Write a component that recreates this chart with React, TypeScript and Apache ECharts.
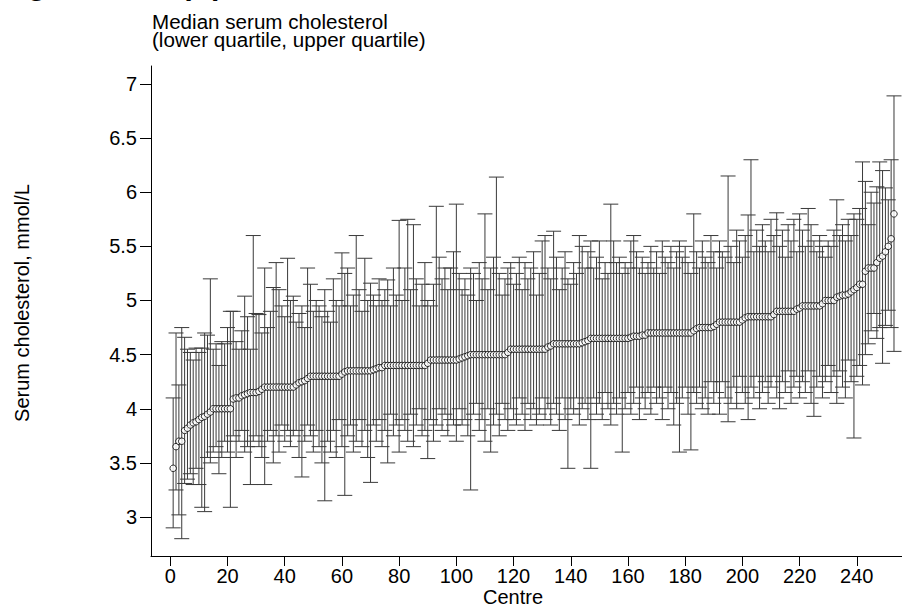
import React, { useEffect, useRef } from "react";
import * as echarts from "echarts";

// Median serum cholesterol per centre (centres sorted by median)
const medians: number[] = [
  3.45, 3.65, 3.70, 3.70, 3.80, 3.82, 3.85, 3.87, 3.88, 3.90,
  3.92, 3.93, 3.95, 3.97, 4.00, 4.00, 4.00, 4.00, 4.00, 4.00,
  4.00, 4.09, 4.10, 4.10, 4.12, 4.13, 4.14, 4.15, 4.15, 4.15,
  4.16, 4.18, 4.20, 4.20, 4.20, 4.20, 4.20, 4.20, 4.20, 4.20,
  4.20, 4.20, 4.20, 4.22, 4.24, 4.25, 4.26, 4.28, 4.30, 4.30,
  4.30, 4.30, 4.30, 4.30, 4.30, 4.30, 4.30, 4.30, 4.30, 4.32,
  4.34, 4.35, 4.35, 4.35, 4.35, 4.35, 4.35, 4.35, 4.35, 4.35,
  4.36, 4.37, 4.38, 4.38, 4.40, 4.40, 4.40, 4.40, 4.40, 4.40,
  4.40, 4.40, 4.40, 4.40, 4.40, 4.40, 4.40, 4.40, 4.40, 4.42,
  4.45, 4.45, 4.45, 4.45, 4.45, 4.45, 4.45, 4.45, 4.45, 4.45,
  4.46, 4.47, 4.48, 4.49, 4.50, 4.50, 4.50, 4.50, 4.50, 4.50,
  4.50, 4.50, 4.50, 4.50, 4.50, 4.50, 4.50, 4.52, 4.55, 4.55,
  4.55, 4.55, 4.55, 4.55, 4.55, 4.55, 4.55, 4.55, 4.55, 4.55,
  4.55, 4.57, 4.58, 4.60, 4.60, 4.60, 4.60, 4.60, 4.60, 4.60,
  4.60, 4.60, 4.60, 4.61, 4.62, 4.63, 4.65, 4.65, 4.65, 4.65,
  4.65, 4.65, 4.65, 4.65, 4.65, 4.65, 4.65, 4.65, 4.65, 4.65,
  4.66, 4.67, 4.67, 4.67, 4.68, 4.68, 4.70, 4.70, 4.70, 4.70,
  4.70, 4.70, 4.70, 4.70, 4.70, 4.70, 4.70, 4.70, 4.70, 4.70,
  4.70, 4.70, 4.72, 4.74, 4.75, 4.75, 4.75, 4.75, 4.75, 4.76,
  4.78, 4.80, 4.80, 4.80, 4.80, 4.80, 4.80, 4.80, 4.80, 4.82,
  4.84, 4.85, 4.85, 4.85, 4.85, 4.85, 4.85, 4.85, 4.85, 4.85,
  4.87, 4.90, 4.90, 4.90, 4.90, 4.90, 4.90, 4.90, 4.92, 4.93,
  4.95, 4.95, 4.95, 4.95, 4.95, 4.95, 4.95, 4.97, 5.00, 5.00,
  5.00, 5.00, 5.03, 5.04, 5.05, 5.05, 5.06, 5.08, 5.10, 5.12,
  5.15, 5.15, 5.27, 5.30, 5.30, 5.30, 5.35, 5.39, 5.41, 5.45,
  5.50, 5.57, 5.80,
];

// Upper quartile per centre
const upperQ: number[] = [
  4.10, 4.70, 4.22, 4.75, 4.66, 4.55, 4.52, 4.45, 4.56, 4.52,
  4.56, 4.70, 4.68, 5.20, 4.55, 4.60, 4.40, 4.62, 4.60, 4.75,
  4.90, 4.90, 4.62, 4.55, 4.72, 5.04, 4.85, 4.55, 5.60, 4.88,
  4.87, 4.70, 5.30, 4.75, 4.90, 5.12, 5.35, 5.10, 4.95, 4.85,
  5.39, 5.00, 5.04, 4.80, 4.88, 4.95, 4.75, 5.30, 5.15, 4.90,
  5.00, 4.95, 4.85, 5.10, 4.90, 4.80, 5.20, 5.00, 4.95, 5.44,
  5.25, 5.30, 4.95, 5.05, 5.60, 5.10, 4.90, 5.39, 5.00, 5.16,
  5.05, 4.95, 5.20, 5.00, 5.10, 5.19, 4.95, 5.30, 5.05, 5.74,
  5.00, 5.30, 5.75, 5.10, 5.70, 5.20, 4.95, 5.15, 5.35, 5.00,
  4.95, 5.15, 5.87, 5.40, 5.20, 5.30, 5.10, 5.30, 5.45, 5.89,
  5.25, 5.10, 5.20, 5.05, 5.30, 5.25, 5.00, 5.35, 5.20, 5.80,
  5.10, 5.30, 5.40, 6.14, 5.25, 5.05, 5.20, 5.30, 5.35, 5.15,
  5.25, 5.40, 5.10, 5.35, 5.20, 5.30, 5.45, 5.05, 5.25, 5.55,
  5.60, 5.30, 5.20, 5.64, 5.40, 5.10, 5.30, 5.45, 5.20, 5.15,
  5.35, 5.25, 5.60, 5.50, 5.30, 5.45, 5.55, 5.30, 5.40, 5.55,
  5.20, 5.35, 5.25, 5.89, 5.55, 5.35, 5.40, 5.25, 5.35, 5.30,
  5.55, 5.60, 5.45, 5.30, 5.40, 5.25, 5.35, 5.50, 5.30, 5.45,
  5.25, 5.55, 5.40, 5.35, 5.50, 5.30, 5.45, 5.55, 5.40, 5.50,
  5.35, 5.25, 5.80, 5.45, 5.30, 5.55, 5.40, 5.35, 5.60, 5.45,
  5.30, 5.55, 5.45, 5.40, 6.15, 5.50, 5.35, 5.65, 5.55, 5.40,
  5.60, 5.79, 6.30, 5.45, 5.65, 5.50, 5.70, 5.55, 5.45, 5.75,
  5.60, 5.81, 5.50, 5.65, 5.40, 5.70, 5.55, 5.75, 5.45, 5.80,
  5.65, 5.50, 5.85, 5.70, 5.55, 5.45, 5.60, 5.50, 5.40, 5.55,
  5.50, 5.65, 5.93, 5.60, 5.70, 5.55, 5.75, 5.60, 5.80, 5.75,
  5.85, 6.28, 6.10, 5.70, 6.00, 5.90, 6.05, 6.28, 6.20, 6.04,
  5.93, 6.30, 6.89,
];

// Lower quartile per centre
const lowerQ: number[] = [
  2.90, 3.25, 3.02, 2.80, 3.31, 3.35, 3.40, 3.30, 3.45, 3.30,
  3.09, 3.05, 3.55, 3.50, 3.60, 3.65, 3.40, 3.55, 3.70, 3.60,
  3.09, 3.75, 3.55, 3.70, 3.80, 3.60, 3.65, 3.30, 3.70, 3.75,
  3.65, 3.55, 3.30, 3.70, 3.80, 3.50, 3.75, 3.60, 3.85, 3.70,
  3.80, 3.65, 3.75, 3.80, 3.55, 3.37, 3.70, 3.85, 3.75, 3.60,
  3.80, 3.65, 3.50, 3.15, 3.70, 3.60, 3.80, 3.55, 3.90, 3.65,
  3.20, 3.75, 3.85, 3.60, 3.70, 3.90, 3.65, 3.80, 3.55, 3.32,
  3.85, 3.70, 3.90, 3.65, 3.80, 3.50, 3.95, 3.75, 3.85, 3.60,
  3.90, 3.80, 3.70, 3.95, 3.65, 3.85, 4.00, 3.75, 3.80, 3.54,
  3.90, 3.70, 3.85, 4.00, 3.80, 3.95, 3.75, 3.90, 3.85, 3.70,
  4.00, 3.85, 3.90, 3.75, 3.25, 3.95, 4.05, 3.80, 3.90, 3.70,
  4.00, 3.60, 3.85, 3.95, 3.75, 4.05, 3.90, 3.80, 4.00, 3.90,
  3.85, 4.10, 3.95, 3.80, 4.05, 3.90, 4.00, 3.85, 3.95, 4.10,
  3.90, 4.00, 3.85, 4.05, 3.95, 3.80, 4.10, 3.90, 3.45, 4.00,
  3.95, 4.10, 3.85, 4.00, 4.05, 3.90, 3.45, 4.10, 3.95, 4.05,
  3.90, 4.15, 4.00, 3.85, 4.05, 3.95, 4.10, 3.60, 4.00, 4.15,
  3.95, 4.05, 4.20, 3.90, 4.10, 4.00, 4.15, 3.95, 4.20, 4.05,
  4.10, 3.90, 4.20, 4.00, 4.15, 3.85, 4.05, 3.60, 4.10, 4.20,
  3.95, 3.62, 4.15, 4.05, 4.20, 4.00, 4.10, 3.95, 4.25, 4.05,
  4.15, 3.95, 4.25, 4.10, 3.88, 4.05, 4.20, 4.00, 4.30, 4.15,
  4.05, 3.90, 4.20, 4.10, 4.30, 4.00, 4.15, 4.25, 4.05, 4.20,
  4.30, 4.10, 4.00, 4.25, 4.15, 4.35, 4.05, 4.20, 4.30, 4.10,
  4.25, 4.15, 4.35, 4.05, 3.93, 4.20, 4.30, 4.10, 4.25, 4.40,
  4.15, 4.30, 4.05, 4.35, 4.20, 4.10, 4.45, 4.25, 3.73, 4.30,
  4.40, 4.22, 4.50, 4.60, 4.72, 4.88, 4.65, 4.75, 4.42, 4.77,
  4.91, 4.75, 4.53,
];

const xTickValues: number[] = [0, 20, 40, 60, 80, 100, 120, 140, 160, 180, 200, 220, 240];
const yTickValues: number[] = [3, 3.5, 4, 4.5, 5, 5.5, 6, 6.5, 7];

const FONT = "'Liberation Sans', Arial, Helvetica, sans-serif";

export default function App() {
  const ref = useRef<HTMLDivElement>(null);

  useEffect(() => {
    if (!ref.current) return;
    const chart = echarts.init(ref.current, undefined, { renderer: "svg" });

    const barData = medians.map((_, i) => [i + 1, lowerQ[i], upperQ[i]]);
    const pointData = medians.map((m, i) => [i + 1, m]);

    const option: any = {
      animation: false,
      backgroundColor: "#ffffff",
      grid: { left: 151, right: 0, top: 66, bottom: 52, containLabel: false },
      xAxis: {
        type: "value",
        min: -6.75,
        max: 255.8,
        axisLine: { show: true, onZero: false, lineStyle: { color: "#000", width: 1 } },
        axisTick: { show: true, inside: false, length: 10, lineStyle: { color: "#000", width: 1 }, customValues: xTickValues },
        axisLabel: { color: "#000", fontSize: 20, fontFamily: FONT, margin: 10, customValues: xTickValues },
        splitLine: { show: false },
      },
      yAxis: {
        type: "value",
        min: 2.64,
        max: 7.166,
        axisLine: { show: true, onZero: false, lineStyle: { color: "#000", width: 1 } },
        axisTick: { show: true, inside: false, length: 11, lineStyle: { color: "#000", width: 1 }, customValues: yTickValues },
        axisLabel: { color: "#000", fontSize: 20, fontFamily: FONT, margin: 14, customValues: yTickValues },
        splitLine: { show: false },
      },
      graphic: [
        {
          type: "text",
          x: 152,
          y: 12,
          scaleX: 1.03,
          style: {
            text: "Median serum cholesterol",
            fill: "#000",
            font: `20px ${FONT}`,
            verticalAlign: "top",
          },
        },
        {
          type: "text",
          x: 152,
          y: 30,
          scaleX: 1.03,
          style: {
            text: "(lower quartile, upper quartile)",
            fill: "#000",
            font: `20px ${FONT}`,
            verticalAlign: "top",
          },
        },
        {
          type: "text",
          x: 1,
          y: -1,
          style: { text: "Figure 1", fill: "#000", font: `bold 30px ${FONT}`, verticalAlign: "bottom" },
        },
        {
          type: "text",
          x: 181,
          y: -1,
          style: { text: "(B)", fill: "#000", font: `bold 30px ${FONT}`, verticalAlign: "bottom" },
        },
        {
          type: "text",
          x: 513,
          y: 597,
          style: { text: "Centre", fill: "#000", font: `20px ${FONT}`, align: "center", verticalAlign: "middle" },
        },
        {
          type: "text",
          x: 22,
          y: 303,
          rotation: Math.PI / 2,
          style: {
            text: "Serum cholesterol, mmol/L",
            fill: "#000",
            font: `20px ${FONT}`,
            align: "center",
            verticalAlign: "middle",
          },
        },
      ],
      series: [
        {
          type: "custom",
          data: barData,
          encode: { x: 0, y: [1, 2] },
          z: 2,
          renderItem: (params: any, api: any) => {
            const x = api.value(0);
            const lo = api.coord([x, api.value(1)]);
            const hi = api.coord([x, api.value(2)]);
            const hw = 7.5;
            const style = { stroke: "#3a3a3a", lineWidth: 1 };
            return {
              type: "group",
              children: [
                { type: "line", shape: { x1: lo[0], y1: lo[1], x2: hi[0], y2: hi[1] }, style },
                { type: "line", shape: { x1: lo[0] - hw, y1: lo[1], x2: lo[0] + hw, y2: lo[1] }, style },
                { type: "line", shape: { x1: hi[0] - hw, y1: hi[1], x2: hi[0] + hw, y2: hi[1] }, style },
              ],
            };
          },
        },
        {
          type: "scatter",
          data: pointData,
          symbol: "circle",
          symbolSize: 6.5,
          z: 3,
          itemStyle: { color: "#ffffff", borderColor: "#000", borderWidth: 1 },
        },
      ],
    };

    chart.setOption(option);
    return () => chart.dispose();
  }, []);

  return (
    <div
      ref={ref}
      style={{ position: "absolute", left: 0, top: 0, width: 902, height: 608 }}
    />
  );
}
